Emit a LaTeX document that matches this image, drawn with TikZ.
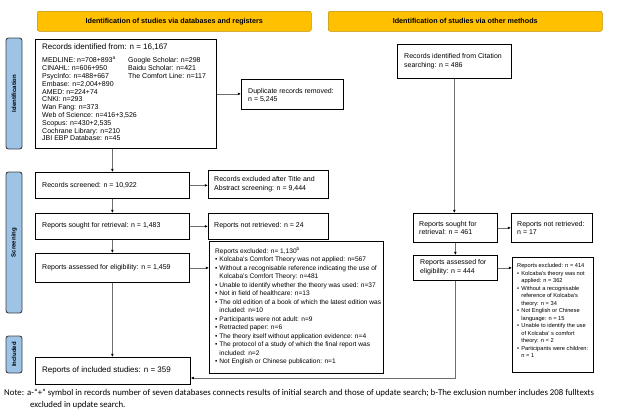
\documentclass[tikz,border=0pt]{standalone}
\usepackage{fontspec}
\setmainfont{Liberation Sans}
\newfontfamily\notefont{Carlito}
\usetikzlibrary{arrows.meta}
\definecolor{hdrfill}{HTML}{FFC000}
\definecolor{hdrline}{HTML}{BF8F00}
\definecolor{phfill}{HTML}{9DC3E6}
\definecolor{phline}{HTML}{404040}
\definecolor{lngray}{HTML}{6E6E6E}
\newcommand\bul{\makebox[4.2pt][l]{•}}
\newcommand\cnt{\hspace*{4.2pt}}
\begin{document}
\begin{tikzpicture}[x=1pt,y=-1pt,
  box/.style={draw=black, line width=0.75pt, anchor=north west, inner sep=0pt},
  txt/.style={anchor=west, inner sep=0pt, align=left, font=\fontsize{7}{8.8}\selectfont},
  header/.style={draw=hdrline, fill=hdrfill, line width=0.5pt, rounded corners=2pt, anchor=north west, inner sep=0pt, font=\bfseries\fontsize{7.2}{8}\selectfont},
  phase/.style={draw=phline, fill=phfill, line width=0.9pt, rounded corners=2.5pt, rotate=90, inner sep=0pt, minimum height=16pt, font=\bfseries\fontsize{6}{7}\selectfont},
  conn/.style={draw=lngray, line width=0.6pt, -{Latex[length=3.2pt,width=2.8pt,color=black]}},
]
\useasboundingbox (0,0) rectangle (625,418);

% headers
\node[header, minimum width=274pt, minimum height=20pt] (hl) at (37,11) {Identification of studies via databases and registers};
\node[header, minimum width=274pt, minimum height=20pt] (hr) at (328,11) {Identification of studies via other methods};

% phase bars
\node[phase, minimum width=111pt] (phid) at (14,93.5) {Identification};
\node[phase, minimum width=141pt] (phsc) at (14,242.5) {Screening};
\node[phase, minimum width=37pt] (phin) at (14,354.5) {Included};

% left column boxes
\node[box, minimum width=181pt, minimum height=109pt] (ident) at (35,39) {};
\node[txt, font=\fontsize{8}{9}\selectfont] (identt) at (42,47) {Records identified from: n = 16,167};
\node[txt, font=\fontsize{7}{7.8}\selectfont] (identa) at (42,99) {MEDLINE: n=708+893\textsuperscript{a}\\CINAHL: n=606+950\\PsycInfo: n=488+667\\Embase: n=2,004+890\\AMED: n=224+74\\CNKI: n=293\\Wan Fang: n=373\\Web of Science: n=416+3,526\\Scopus: n=430+2,535\\Cochrane Library: n=210\\JBI EBP Database: n=45};
\node[txt, font=\fontsize{7}{7.8}\selectfont] (identb) at (128,68) {Google Scholar: n=298\\Baidu Scholar: n=421\\The Comfort Line: n=117};

\node[box, minimum width=102pt, minimum height=30pt] (dup) at (241,79) {};
\node[txt] (dupt) at (248,95.5) {Duplicate records removed:\\n = 5,245};

\node[box, minimum width=154pt, minimum height=26pt] (scr) at (35,172) {};
\node[txt] (scrt) at (42,185) {Records screened: n = 10,922};

\node[box, minimum width=120pt, minimum height=28pt] (exa) at (208,170) {};
\node[txt] (exat) at (214,184.5) {Records excluded after Title and\\Abstract screening: n = 9,444};

\node[box, minimum width=154pt, minimum height=26pt] (sought) at (35,213) {};
\node[txt] (soughtt) at (42,226) {Reports sought for retrieval: n = 1,483};

\node[box, minimum width=120pt, minimum height=26pt] (nr) at (208,213) {};
\node[txt] (nrt) at (214,226) {Reports not retrieved: n = 24};

\node[box, minimum width=154pt, minimum height=29pt] (assess) at (35,253) {};
\node[txt] (assesst) at (42,267.5) {Reports assessed for eligibility: n = 1,459};

\node[box, minimum width=174pt, minimum height=132pt] (exb) at (209,241) {};
\node[txt, font=\fontsize{6.6}{8.5}\selectfont] (exbt) at (215,306) {Reports excluded: n= 1,130\textsuperscript{b}\\
\bul Kolcaba's Comfort Theory was not applied: n=567\\
\bul Without a recognisable reference indicating the use of\\
\cnt Kolcaba's Comfort Theory: n=481\\
\bul Unable to identify whether the theory was used: n=37\\
\bul Not in field of healthcare: n=13\\
\bul The old edition of a book of which the latest edition was\\
\cnt included: n=10\\
\bul Participants were not adult: n=9\\
\bul Retracted paper: n=6\\
\bul The theory itself without application evidence: n=4\\
\bul The protocol of a study of which the final report was\\
\cnt included: n=2\\
\bul Not English or Chinese publication: n=1};

\node[box, minimum width=155pt, minimum height=27pt] (incl) at (35,357) {};
\node[txt, font=\fontsize{8}{9}\selectfont] (inclt) at (42,370.5) {Reports of included studies: n = 359};

% right column boxes
\node[box, minimum width=114pt, minimum height=34pt] (cit) at (397,44) {};
\node[txt] (citt) at (404,61) {Records identified from Citation\\searching: n = 486};

\node[box, minimum width=84pt, minimum height=29pt] (rsought) at (413,213) {};
\node[txt] (rsoughtt) at (419,228) {Reports sought for\\retrieval: n = 461};

\node[box, minimum width=81pt, minimum height=29pt] (rnr) at (511,213) {};
\node[txt] (rnrt) at (517,228) {Reports not retrieved:\\n = 17};

\node[box, minimum width=84pt, minimum height=25pt] (rass) at (413,255) {};
\node[txt] (rasst) at (420,267.5) {Reports assessed for\\eligibility: n = 444};

\node[box, minimum width=81pt, minimum height=115pt] (rexc) at (512,257) {};
\node[txt, font=\fontsize{5.7}{7.5}\selectfont] (rexct) at (517,310.5) {Reports excluded: n = 414\\
\bul Kolcaba's theory was not\\
\cnt applied: n = 362\\
\bul Without a recognisable\\
\cnt reference of Kolcaba's\\
\cnt theory: n = 34\\
\bul Not English or Chinese\\
\cnt language: n = 15\\
\bul Unable to identify the use\\
\cnt of Kolcaba' s comfort\\
\cnt theory: n = 2\\
\bul Participants were children:\\
\cnt n = 1};

% connectors
\draw[conn] (ident.east) -- (ident.east -| dup.west);
\draw[conn] (scr.north |- ident.south) -- (scr.north);
\draw[conn] (scr.east) -- (scr.east -| exa.west);
\draw[conn] (scr.south) -- (sought.north);
\draw[conn] (sought.east) -- (sought.east -| nr.west);
\draw[conn] (sought.south) -- (assess.north);
\draw[conn] (assess.east) -- (assess.east -| exb.west);
\draw[conn] (assess.south) -- (assess.south |- incl.north);
\draw[conn] (cit.south) -- (cit.south |- rsought.north);
\draw[conn] (rsought.east) -- (rsought.east -| rnr.west);
\draw[conn] (rsought.south) -- (rass.north);
\draw[conn] (rass.east) -- (rass.east -| rexc.west);
\coordinate (turn) at (455,378);
\draw[conn] (rass.south) -- (rass.south |- turn) -- (turn -| incl.east);

% note
\node[anchor=north west, inner sep=0pt, align=left, font=\notefont\fontsize{8.8}{12}\selectfont] (note) at (4,389) {\makebox[23pt][l]{Note:}a-“+” symbol in records number of seven databases connects results of initial search and those of update search; b-The exclusion number includes 208 fulltexts\\\hspace*{26pt}excluded in update search.};
\end{tikzpicture}
\end{document}
